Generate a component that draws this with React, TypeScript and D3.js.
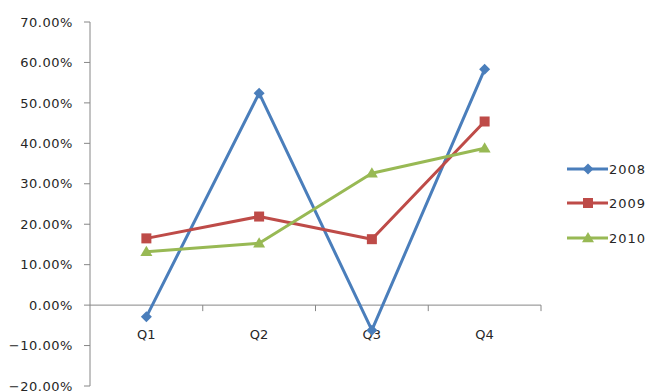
import React from "react";
import * as d3 from "d3";

const categories = ["Q1", "Q2", "Q3", "Q4"];
const seriesNames = ["2008", "2009", "2010"];
const values2008 = [-0.029, 0.524, -0.062, 0.583];
const values2009 = [0.165, 0.219, 0.163, 0.454];
const values2010 = [0.132, 0.153, 0.326, 0.388];
const yTicks = [-0.2, -0.1, 0, 0.1, 0.2, 0.3, 0.4, 0.5, 0.6, 0.7];
const colors = ["#4A7EBB", "#BE4B48", "#98B954"];
const markers = ["diamond", "square", "triangle"];

const W = 649, H = 392;
const left = 90, right = 541, top = 22, bottom = 386;
const font = "'DejaVu Sans', sans-serif";

function Marker({ type, x, y, color }: { type: string; x: number; y: number; color: string }) {
  if (type === "diamond") {
    const s = 5.5;
    return <path d={`M${x},${y - s}L${x + s},${y}L${x},${y + s}L${x - s},${y}Z`} fill={color} />;
  }
  if (type === "square") {
    const s = 5;
    return <rect x={x - s} y={y - s} width={2 * s} height={2 * s} fill={color} />;
  }
  const s = 6;
  return <path d={`M${x},${y - s}L${x + s},${y + s * 0.7}L${x - s},${y + s * 0.7}Z`} fill={color} />;
}

export default function App() {
  const x = d3.scaleBand<string>().domain(categories).range([left, right]).padding(0);
  const y = d3.scaleLinear().domain([-0.2, 0.7]).range([bottom, top]);
  const fmt = d3.format(".2%");
  const data = [values2008, values2009, values2010];
  const line = d3
    .line<number>()
    .x((_, i) => (x(categories[i]) as number) + x.bandwidth() / 2)
    .y((d) => y(d));
  const y0 = y(0);
  const legendY = [169, 203, 238];
  return (
    <svg width={W} height={H} style={{ position: "absolute", left: 0, top: 0, background: "#fff" }}>
      <rect width={W} height={H} fill="#fff" />
      {/* y axis */}
      <line x1={left} x2={left} y1={top} y2={bottom} stroke="#868686" strokeWidth={1} />
      {yTicks.map((t) => (
        <g key={t}>
          <line x1={left - 6} x2={left} y1={y(t)} y2={y(t)} stroke="#868686" />
          <text
            x={73}
            y={y(t)}
            dy="0.36em"
            textAnchor="end"
            fontFamily={font}
            fontSize={13}
            letterSpacing={0.55}
            fill="#262626"
          >
            {fmt(t)}
          </text>
        </g>
      ))}
      {/* x axis */}
      <line x1={left} x2={right} y1={y0} y2={y0} stroke="#868686" />
      {categories.map((c) => (
        <line key={c} x1={(x(c) as number) + x.bandwidth()} x2={(x(c) as number) + x.bandwidth()} y1={y0} y2={y0 + 6} stroke="#868686" />
      ))}
      {categories.map((c) => (
        <text
          key={c}
          x={(x(c) as number) + x.bandwidth() / 2}
          y={339}
          textAnchor="middle"
          fontFamily={font}
          fontSize={13}
          fill="#262626"
        >
          {c}
        </text>
      ))}
      {data.map((vals, si) => (
        <g key={si}>
          <path d={line(vals) || ""} fill="none" stroke={colors[si]} strokeWidth={3} strokeLinejoin="round" />
          {vals.map((v, i) => (
            <Marker key={i} type={markers[si]} x={(x(categories[i]) as number) + x.bandwidth() / 2} y={y(v)} color={colors[si]} />
          ))}
        </g>
      ))}
      {/* legend */}
      {seriesNames.map((n, si) => (
        <g key={n}>
          <line x1={567} x2={608} y1={legendY[si]} y2={legendY[si]} stroke={colors[si]} strokeWidth={3} />
          <Marker type={markers[si]} x={588} y={legendY[si]} color={colors[si]} />
          <text x={609} y={legendY[si]} dy="0.36em" fontFamily={font} fontSize={13} letterSpacing={1} fill="#262626">
            {n}
          </text>
        </g>
      ))}
    </svg>
  );
}
